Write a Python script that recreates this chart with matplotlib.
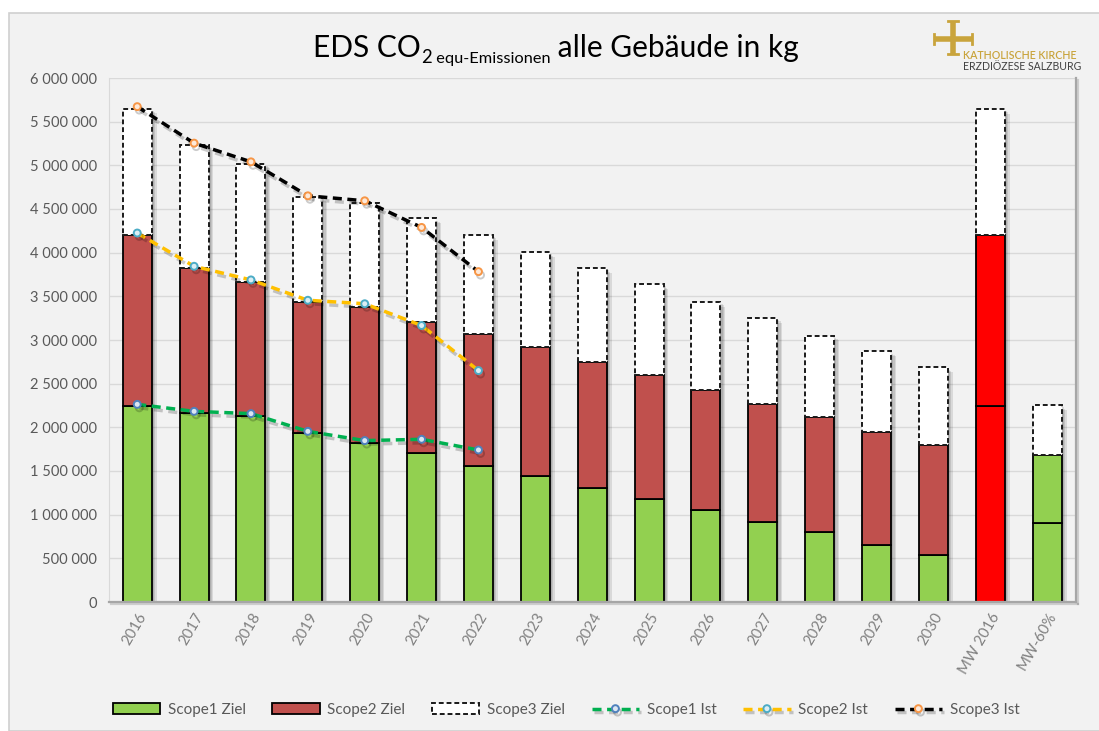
import numpy as np
import matplotlib
matplotlib.use("Agg")
import matplotlib.pyplot as plt
import matplotlib.patches as mpatches
import matplotlib.patheffects as pe
from matplotlib.lines import Line2D
from matplotlib.ticker import FuncFormatter, MultipleLocator

plt.rcParams['font.family'] = ['Lato', 'DejaVu Sans']

# --- data ---
categories = ['2016', '2017', '2018', '2019', '2020', '2021', '2022', '2023',
              '2024', '2025', '2026', '2027', '2028', '2029', '2030',
              'MW 2016', 'MW-60%']
scope1_ziel = [2244000, 2164000, 2130000, 1931000, 1825000, 1703000, 1562000,
               1440000, 1306000, 1177000, 1055000, 918000, 796000, 655000,
               534000, 2243000, 903000]
scope2_ziel = [1962000, 1657000, 1535000, 1499000, 1555000, 1507000, 1501000,
               1478000, 1440000, 1417000, 1368000, 1348000, 1322000, 1291000,
               1264000, 1959000, 780000]
scope3_ziel = [1444000, 1413000, 1355000, 1207000, 1188000, 1182000, 1143000,
               1085000, 1074000, 1044000, 1014000, 987000, 933000, 923000,
               888000, 1444000, 572000]

ist_years = ['2016', '2017', '2018', '2019', '2020', '2021', '2022']
scope1_ist = [2263000, 2183000, 2157000, 1954000, 1848000, 1863000, 1741000]
scope2_ist = [4225000, 3844000, 3688000, 3455000, 3415000, 3166000, 2650000]
scope3_ist = [5672000, 5254000, 5040000, 4651000, 4594000, 4289000, 3783000]

green = '#92d050'
red = '#c0504d'
bright_red = '#ff0000'
col1 = [green] * 15 + [bright_red, green]
col2 = [red] * 15 + [bright_red, green]

W, H = 1099, 731
fig = plt.figure(figsize=(W / 100, H / 100), dpi=100, facecolor='white')


def px(x, y):
    return x / W, 1 - y / H


# chart area background with border
fig.add_artist(mpatches.Rectangle(px(9, 731), 1.0, 1 - 13 / H,
                                  transform=fig.transFigure, facecolor='#f2f2f2',
                                  edgecolor='#d0d0d0', lw=1.2, zorder=0))

left, top = px(108.8, 78)
right, bottom = px(1075.6, 602)
ax = fig.add_axes([left, bottom, right - left, top - bottom])
ax.patch.set_alpha(0)

x = np.arange(len(categories))
s1 = np.array(scope1_ziel)
s2 = np.array(scope2_ziel)
s3 = np.array(scope3_ziel)
total = s1 + s2 + s3
bw = 0.51

# soft shadows behind the stacked bars
shadow_fx = [pe.SimplePatchShadow(offset=(o, -o), shadow_rgbFace='black', alpha=0.1)
             for o in (1.5, 2.5, 3.5)]
ax.bar(x, total, width=bw, facecolor='none', edgecolor='none', zorder=1.5,
       path_effects=shadow_fx)

ax.bar(x, s1, width=bw, color=col1, edgecolor='black', lw=1.3, zorder=2,
       label='Scope1 Ziel')
ax.bar(x, s2, width=bw, bottom=s1, color=col2, edgecolor='black', lw=1.3,
       zorder=2, label='Scope2 Ziel')
ax.bar(x, s3, width=bw, bottom=s1 + s2, color='white', edgecolor='#1a1a1a',
       lw=1.4, linestyle=(0, (2.5, 1.5)), zorder=2, label='Scope3 Ziel')

xi = np.arange(len(ist_years))
line_fx = [pe.SimpleLineShadow(offset=(1.5, -2.5), shadow_color='black', alpha=0.2),
           pe.Normal()]
ist_styles = [
    (scope1_ist, '#00b050', '#4f81bd', '#dce6f2', 'Scope1 Ist'),
    (scope2_ist, '#ffc000', '#4bacc6', '#dbeef4', 'Scope2 Ist'),
    (scope3_ist, '#000000', '#f79646', '#fde9d9', 'Scope3 Ist'),
]
for vals, lc, mec, mfc, lab in ist_styles:
    ax.plot(xi, vals, color=lc, lw=2.5, linestyle=(0, (2.6, 1.6)),
            marker='o', markersize=5, markeredgecolor=mec, markerfacecolor=mfc,
            markeredgewidth=1.4, zorder=3, label=lab, path_effects=line_fx)

ax.set_xlim(-0.5, 16.5)
ax.set_ylim(0, 6000000)
ax.yaxis.set_major_locator(MultipleLocator(500000))
ax.yaxis.set_major_formatter(FuncFormatter(lambda v, p: f"{int(v):,}".replace(",", " ")))
ax.grid(axis='y', color='#d9d9d9', lw=1)
ax.set_axisbelow(True)
ax.set_xticks(x)
ax.set_xticklabels(categories, rotation=60, ha='right', rotation_mode='anchor',
                   color='#808080', fontsize=10.8)
ax.tick_params(axis='x', length=0, pad=6)
ax.tick_params(axis='y', length=0, pad=8.5, labelcolor='#595959', labelsize=10.5)

ax.spines['top'].set_visible(False)
ax.spines['left'].set_color('#d9d9d9')
for side in ('right', 'bottom'):
    ax.spines[side].set_color('#a6a6a6')
    ax.spines[side].set_linewidth(1.6)
    ax.spines[side].set_path_effects([
        pe.SimpleLineShadow(offset=(1.5, -1.5), shadow_color='black', alpha=0.15),
        pe.Normal()])

# legend
h, l = ax.get_legend_handles_labels()
order = ['Scope1 Ziel', 'Scope2 Ziel', 'Scope3 Ziel', 'Scope1 Ist', 'Scope2 Ist', 'Scope3 Ist']
hd = dict(zip(l, h))
fig.legend([hd[k] for k in order], order, loc='center', bbox_to_anchor=px(566, 710),
           ncol=6, frameon=False, fontsize=11, handlelength=3.1,
           handletextpad=0.5, columnspacing=1.75, labelcolor='#595959')

# title built from pieces (subscript in the middle)
fig.canvas.draw()
rend = fig.canvas.get_renderer()
tsize = 21.5
base_y = px(0, 57)[1]
sub_y = px(0, 63)[1]
pieces = [("EDS CO", tsize, base_y), ("2", tsize * 0.62, sub_y),
          (" equ-Emissionen", tsize * 0.55, sub_y), (" alle Gebäude in kg", tsize, base_y)]
texts = [fig.text(0, yy, s, fontsize=fs, va='baseline', ha='left', color='black')
         for s, fs, yy in pieces]
widths = [t.get_window_extent(rend).width for t in texts]
xcur = 556 - sum(widths) / 2
for t, w in zip(texts, widths):
    t.set_x(xcur / W)
    xcur += w

# logo
gold = '#c9a43c'
fig.add_artist(Line2D([px(953, 0)[0]] * 2, [px(0, 21)[1], px(0, 54)[1]],
                      transform=fig.transFigure, color=gold, lw=4, solid_capstyle='butt'))
fig.add_artist(Line2D([px(934, 0)[0], px(972, 0)[0]], [px(0, 39)[1]] * 2,
                      transform=fig.transFigure, color=gold, lw=4, solid_capstyle='butt'))
for (xa, ya), (xb, yb) in [((948, 21), (958, 21)), ((948, 54), (958, 54)),
                           ((934, 34), (934, 44)), ((972, 34), (972, 44))]:
    fig.add_artist(Line2D([px(xa, 0)[0], px(xb, 0)[0]], [px(0, ya)[1], px(0, yb)[1]],
                          transform=fig.transFigure, color=gold, lw=2))
fig.text(*px(963, 59), "KATHOLISCHE KIRCHE", fontsize=7.7, color=gold, va='baseline',
         fontweight='semibold')
fig.text(*px(963, 70), "ERZDIÖZESE SALZBURG", fontsize=7.6, color='#404040', va='baseline')

fig.savefig('out.png', dpi=100, facecolor='white')
